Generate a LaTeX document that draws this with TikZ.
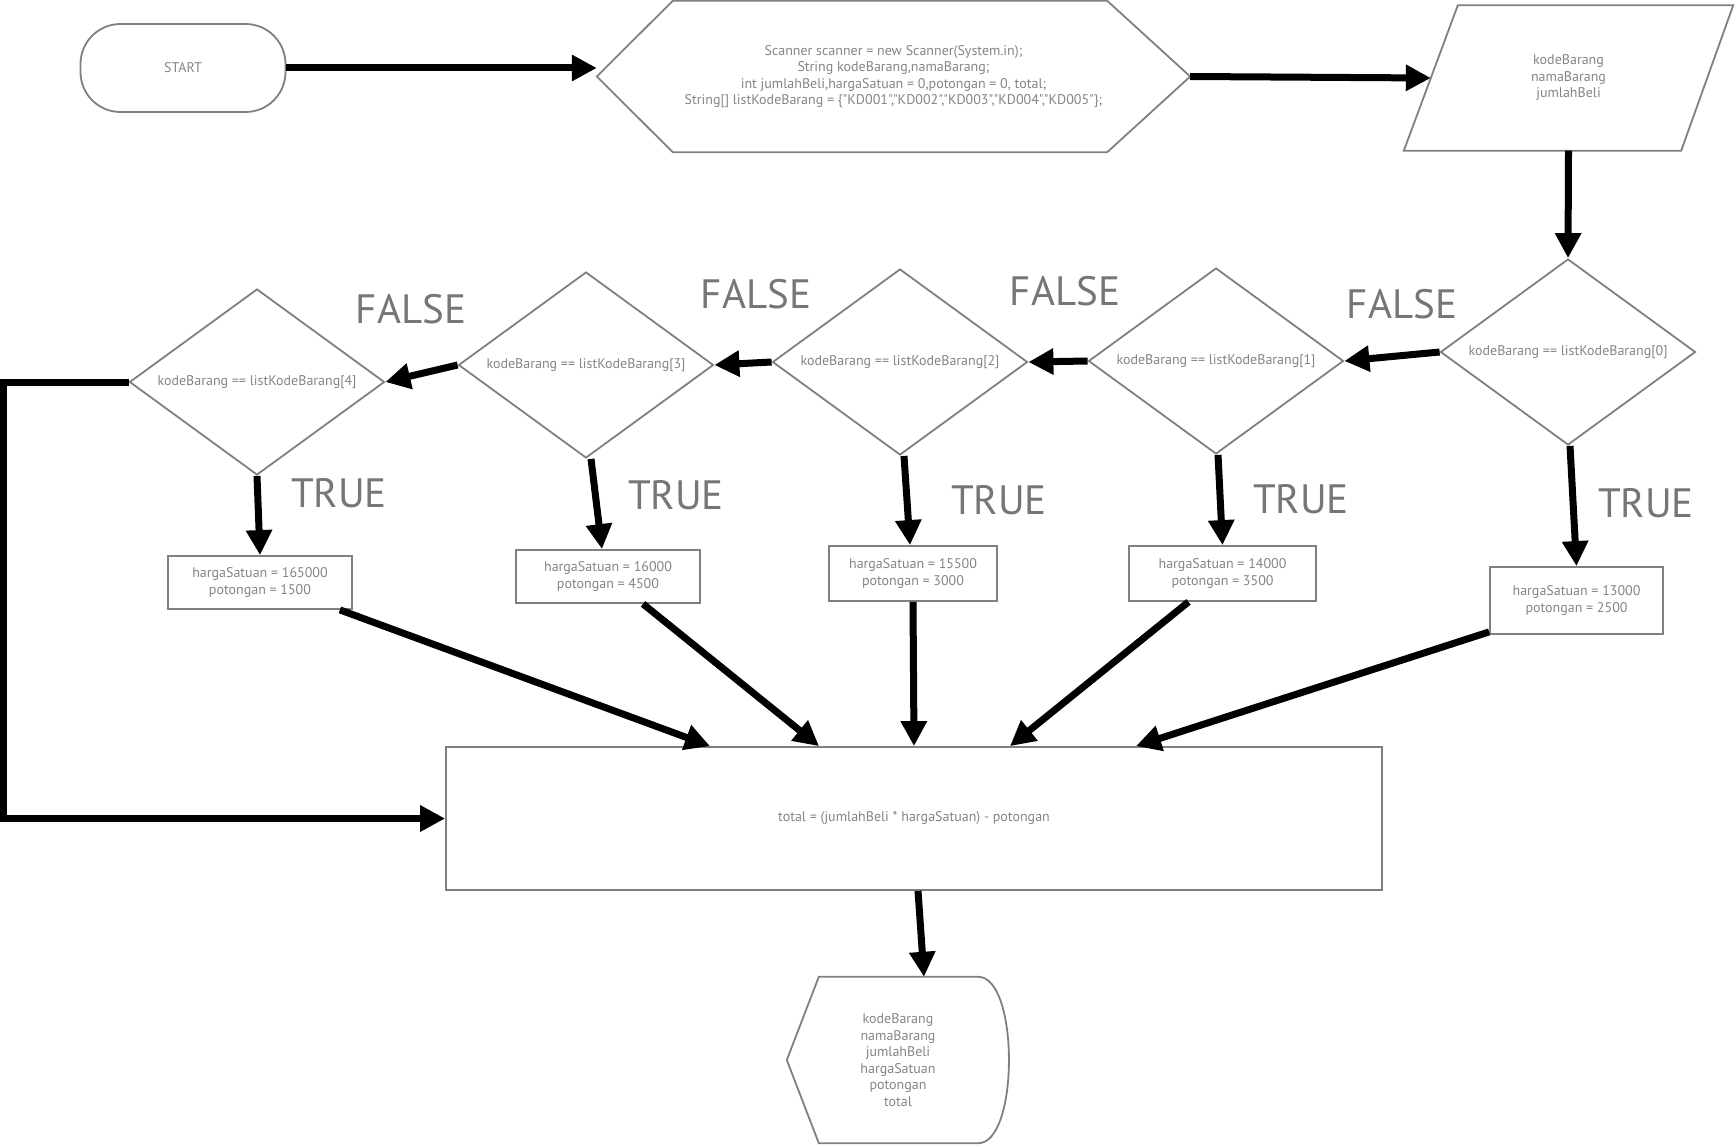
\documentclass[tikz,border=0pt]{standalone}
\usepackage{fontspec}
\newfontfamily\ptsans{PT Sans}[Ligatures=TeXOff]
\usetikzlibrary{shapes.geometric,arrows.meta,calc}
\definecolor{shapegray}{HTML}{808080}
\definecolor{txtgray}{HTML}{858585}
\definecolor{lblgray}{HTML}{767676}
\begin{document}
\begin{tikzpicture}[x=1pt,y=-1pt,
 shp/.style={draw=shapegray,line width=1.8pt},
 txt/.style={text=txtgray,font=\ptsans\fontsize{14}{16.5}\selectfont,align=center},
 dec/.style={diamond,aspect=1.37,shp,txt,minimum width=255pt,minimum height=186pt,inner sep=0pt},
 box/.style={rectangle,shp,txt,inner sep=0pt},
 ghost/.style={rectangle,txt,inner sep=0pt},
 arr/.style={line width=7pt,-{Triangle[length=25pt,width=25pt]}},
 lbl/.style={text=lblgray,font=\ptsans\fontsize{41}{41}\selectfont,inner sep=0pt}]
\fill[white] (0,0) rectangle (1736,1145);
\useasboundingbox (0,0) rectangle (1736,1145);

% nodes
\node[rectangle,shp,txt,rounded corners=40pt,minimum width=205pt,minimum height=88pt] (start) at (183,68) {START};
\node[ghost,minimum width=593pt,minimum height=151pt] (hex) at (893.5,76.5)
 {Scanner scanner = new Scanner(System.in);\\String kodeBarang,namaBarang;\\int jumlahBeli,hargaSatuan = 0,potongan = 0, total;\\String[] listKodeBarang = \{"KD001","KD002","KD003","KD004","KD005"\};};
\draw[shp] (hex.west) -- ([xshift=76pt]hex.north west) -- ([xshift=-83pt]hex.north east) -- (hex.east) -- ([xshift=-83pt]hex.south east) -- ([xshift=76pt]hex.south west) -- cycle;

\node[ghost,minimum width=329pt,minimum height=145pt] (inp) at (1568.5,78) {kodeBarang\\namaBarang\\jumlahBeli};
\draw[shp] ([xshift=54pt]inp.north west) -- (inp.north east) -- ([xshift=-52pt]inp.south east) -- (inp.south west) -- cycle;
\coordinate (inpL) at ($(inp.south west)!0.5!([xshift=54pt]inp.north west)$);

\node[dec] (d0) at (1568,352) {kodeBarang == listKodeBarang[0]};
\node[dec] (d1) at (1216,361) {kodeBarang == listKodeBarang[1]};
\node[dec] (d2) at (900,362) {kodeBarang == listKodeBarang[2]};
\node[dec] (d3) at (586,365) {kodeBarang == listKodeBarang[3]};
\node[dec] (d4) at (257,382) {kodeBarang == listKodeBarang[4]};

\node[box,minimum width=184pt,minimum height=53pt] (b4) at (260,582.5) {hargaSatuan = 165000\\potongan = 1500};
\node[box,minimum width=184pt,minimum height=53pt] (b3) at (608,576.5) {hargaSatuan = 16000\\potongan = 4500};
\node[box,minimum width=168pt,minimum height=55pt] (b2) at (913,573.5) {hargaSatuan = 15500\\potongan = 3000};
\node[box,minimum width=187pt,minimum height=55pt] (b1) at (1222.5,573.5) {hargaSatuan = 14000\\potongan = 3500};
\node[box,minimum width=173pt,minimum height=67pt] (b0) at (1576.5,600.5) {hargaSatuan = 13000\\potongan = 2500};

\node[box,minimum width=936pt,minimum height=143pt] (total) at (914,818.5) {total = (jumlahBeli * hargaSatuan) - potongan};

\node[ghost,minimum width=222pt,minimum height=166pt] (outp) at (898,1060) {kodeBarang\\namaBarang\\jumlahBeli\\hargaSatuan\\potongan\\total};
\draw[shp] (outp.west) -- ([xshift=32pt]outp.north west) -- ([xshift=-31pt]outp.north east) .. controls ([xshift=10pt]outp.north east) and ([xshift=10pt]outp.south east) .. ([xshift=-31pt]outp.south east) -- ([xshift=32pt]outp.south west) -- cycle;

% labels
\node[lbl] (f01) at (1402,304) {FALSE};
\node[lbl] (f12) at (1065,291) {FALSE};
\node[lbl] (f23) at (756,294) {FALSE};
\node[lbl] (f34) at (411,309) {FALSE};
\node[lbl] (t0) at (1646,503) {TRUE};
\node[lbl] (t1) at (1301,499) {TRUE};
\node[lbl] (t2) at (999,500) {TRUE};
\node[lbl] (t3) at (676,495) {TRUE};
\node[lbl] (t4) at (339,493) {TRUE};

% connectors
\draw[arr] (start.east) -- (start.east -| hex.west);
\draw[arr] (hex.east) -- (inpL);
\draw[arr] (inp.south) -- (d0.north);
\draw[arr] (d0.west) -- (d1.east);
\draw[arr] (d1.west) -- (d2.east);
\draw[arr] (d2.west) -- (d3.east);
\draw[arr] (d3.west) -- (d4.east);
\draw[arr] ([xshift=2pt]d0.south) -- (b0.north);
\draw[arr] ([xshift=2pt]d1.south) -- (b1.north);
\draw[arr] ([xshift=4pt]d2.south) -- ([xshift=-3pt]b2.north);
\draw[arr] ([xshift=5pt]d3.south) -- ([xshift=-6pt]b3.north);
\draw[arr] (d4.south) -- (b4.north);
\draw[arr] ([xshift=-13pt]b4.south east) -- ([xshift=-204pt]total.north);
\draw[arr] ([xshift=35pt]b3.south) -- ([xshift=-95pt]total.north);
\draw[arr] (b2.south) -- (total.north);
\draw[arr] ([xshift=-34pt]b1.south) -- ([xshift=96pt]total.north);
\draw[arr] ([yshift=3pt]b0.south west) -- ([xshift=222pt]total.north);
\draw[arr] (d4.west) -- ++(-125,0) |- (total.west);
\draw[arr] ([xshift=4pt]total.south) -- ([xshift=26pt]outp.north);
\end{tikzpicture}
\end{document}
